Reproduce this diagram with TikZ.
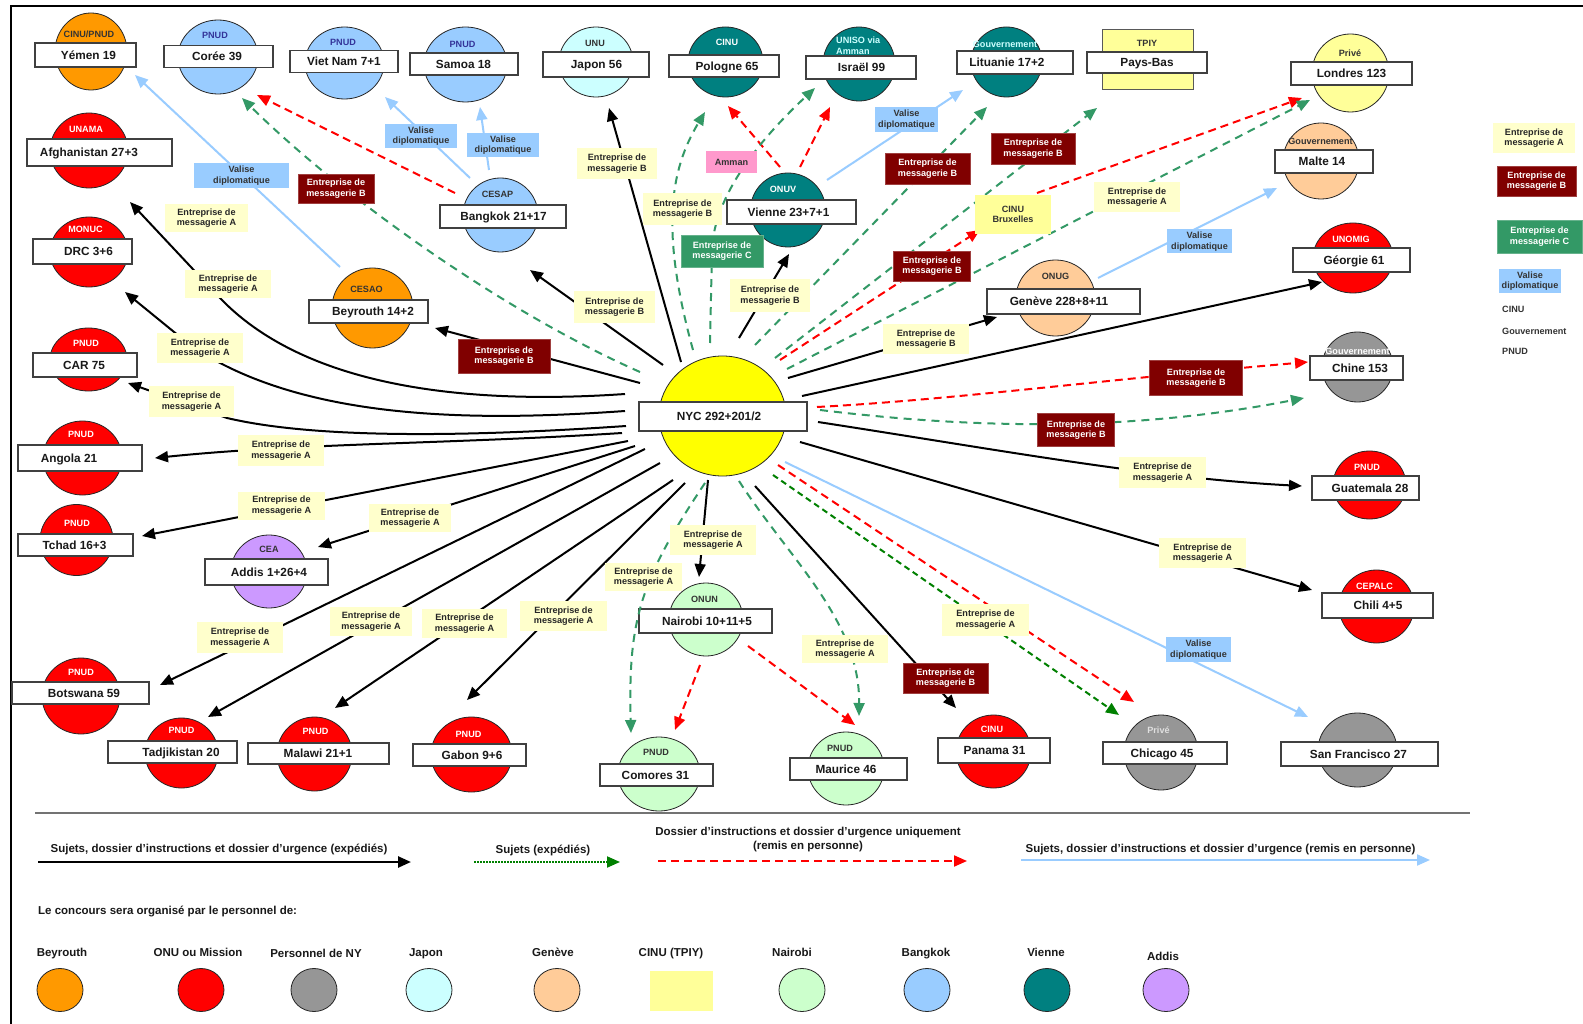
\documentclass[tikz,border=0pt]{standalone}
\usepackage{fontspec}
\setmainfont{Liberation Sans}
\usetikzlibrary{arrows.meta,shapes.geometric}
\definecolor{cRed}{HTML}{FF0000}
\definecolor{cTeal}{HTML}{008080}
\definecolor{cLB}{HTML}{99CCFF}
\definecolor{cOr}{HTML}{FF9900}
\definecolor{cCy}{HTML}{CCFFFF}
\definecolor{cLY}{HTML}{FFFF99}
\definecolor{cPe}{HTML}{FFCC99}
\definecolor{cGr}{HTML}{969696}
\definecolor{cLG}{HTML}{CCFFCC}
\definecolor{cPu}{HTML}{CC99FF}
\definecolor{cYe}{HTML}{FFFF00}
\definecolor{cMA}{HTML}{FFFFCC}
\definecolor{cMB}{HTML}{800000}
\definecolor{cMC}{HTML}{339966}
\definecolor{cDG}{HTML}{008000}
\definecolor{cPk}{HTML}{FF99CC}
\definecolor{cDk}{HTML}{333333}
\definecolor{cBl}{HTML}{333399}
\newcommand\zMain{\fontsize{11.8}{13}\selectfont\bfseries}
\newcommand\zSmall{\fontsize{9.1}{10.6}\selectfont\bfseries}
\newcommand\zLeg{\fontsize{11.5}{14.5}\selectfont\bfseries}
\newcommand\zmA{Entreprise de\\messagerie A}
\newcommand\zmB{Entreprise de\\messagerie B}
\newcommand\zmC{Entreprise de\\messagerie C}
\newcommand\zmV{Valise\\diplomatique}
\tikzset{
 ell/.style={ellipse, draw=black!85, line width=0.8pt, inner sep=0pt},
 lbox/.style={rectangle, draw=black!75, line width=1.2pt, fill=white, inner sep=0pt},
 ttl/.style={inner sep=0pt, font=\zMain, text=black!90, anchor=base},
 ag/.style={inner sep=0pt, font=\zSmall, anchor=base},
 msg/.style={rectangle, inner sep=0pt, align=center, font=\zSmall},
 msgA/.style={msg, fill=cMA, text=black!85},
 msgB/.style={msg, fill=cMB, draw=cMB!75!white, line width=0.8pt, text=white},
 msgC/.style={msg, fill=cMC, draw=cMC!75!white, line width=0.8pt, text=white},
 val/.style={msg, fill=cLB, text=cDk},
 conn/.style={line width=2pt, -{Triangle[length=13pt,width=11pt]}},
 blk/.style={conn, draw=black},
 vb/.style={conn, draw=cLB},
 rd/.style={conn, draw=cRed, dash pattern=on 8pt off 5pt},
 gd/.style={conn, draw=cMC, dash pattern=on 8pt off 6pt},
 dgd/.style={conn, draw=cDG, dash pattern=on 6pt off 4pt},
 legtxt/.style={inner sep=0pt, font=\zLeg, text=black!90, anchor=base},
 keyell/.style={ell, minimum width=46pt, minimum height=43pt},
}
\newcommand\zE[6]{\node[ell, fill=#6, minimum width=#4pt, minimum height=#5pt] (#1) at (#2,#3) {};}
\newcommand\zB[5]{\node[lbox, minimum width=#4pt, minimum height=#5pt] (#1) at (#2,#3) {};}
\newcommand\zT[4]{\node[ttl] (#1) at (#2,{#3+4.2}) {#4};}
\newcommand\zA[5]{\node[ag, text=#5] (#1) at (#2,{#3+3.3}) {#4};}
\newcommand\zL[7]{\node[#2, minimum width=#5pt, minimum height=#6pt] (#1) at (#3,#4) {#7};}
\begin{document}
\begin{tikzpicture}[x=1pt,y=-1pt]
\useasboundingbox (0,0) rectangle (1583,1024);
\fill[white] (0,0) rectangle (1583,1024);
\draw[line width=2pt] (11,1024) -- (11,5.7) -- (1583,5.7);

% ---- places: ellipses
\zE{yemenE}{91}{51.5}{72}{77}{cOr}
\zE{coreeE}{218}{57}{80}{74}{cLB}
\zE{vietE}{344.5}{63}{79}{72}{cLB}
\zE{samoaE}{465.5}{64.5}{83}{75}{cLB}
\zE{japonE}{596}{62}{74}{70}{cCy}
\zE{polE}{725.5}{62}{75}{70}{cTeal}
\zE{israelE}{859}{64}{72}{74}{cTeal}
\zE{lituE}{1006.5}{62}{71}{70}{cTeal}
\node[rectangle, draw=black!65, line width=1pt, fill=cLY, minimum width=91pt, minimum height=60pt, inner sep=0pt] (paysE) at (1147.5,60) {};
\zE{londresE}{1350.5}{73}{77}{78}{cLY}
\zE{malteE}{1321}{161}{76}{76}{cPe}
\zE{georgieE}{1353}{258}{80}{70}{cRed}
\zE{chineE}{1357.5}{367}{71}{70}{cGr}
\zE{afgE}{89}{150.5}{78}{75}{cRed}
\zE{drcE}{89}{252}{78}{70}{cRed}
\zE{carE}{88.5}{359.5}{77}{63}{cRed}
\zE{angolaE}{82.5}{458}{79}{74}{cRed}
\zE{tchadE}{76.5}{540}{73}{71}{cRed}
\zE{addisE}{269}{571.5}{76}{73}{cPu}
\zE{botsE}{81}{696}{78}{76}{cRed}
\zE{tadjE}{181.5}{753}{73}{70}{cRed}
\zE{malawiE}{314.5}{754}{75}{74}{cRed}
\zE{gabonE}{471.5}{754.5}{81}{75}{cRed}
\zE{comoresE}{659}{774}{82}{74}{cLG}
\zE{nairobiE}{706}{619.5}{74}{73}{cLG}
\zE{mauriceE}{846}{768.5}{76}{73}{cLG}
\zE{panamaE}{993.5}{751.5}{75}{73}{cRed}
\zE{chicagoE}{1161}{752.5}{74}{75}{cGr}
\zE{sfE}{1357.5}{750}{79}{74}{cGr}
\zE{chiliE}{1376.5}{606.5}{75}{73}{cRed}
\zE{guatE}{1369.5}{485}{73}{68}{cRed}
\zE{nycE}{722.5}{416}{127}{120}{cYe}
\zE{vienneE}{788}{210}{75}{74}{cTeal}
\zE{bangkokE}{500.5}{215}{75}{74}{cLB}
\zE{beyE}{372.5}{308}{81}{80}{cOr}
\zE{genE}{1055.5}{298}{79}{76}{cPe}

% ---- agency texts
\zA{yemenA}{89}{34}{CINU/PNUD}{cDk}
\zA{coreeA}{215}{35}{PNUD}{cBl}
\zA{vietA}{343}{42}{PNUD}{cBl}
\zA{samoaA}{462.5}{44}{PNUD}{cBl}
\zA{japonA}{595}{43}{UNU}{cDk}
\zA{polA}{727}{42}{CINU}{white}
\node[inner sep=0pt, font=\zSmall, text=cCy, align=left, anchor=west] (israelA) at (836,46) {UNISO via\\Amman};
\zA{lituA}{1005}{44}{Gouvernement}{cCy}
\zA{paysA}{1147}{43}{TPIY}{cDk}
\zA{londresA}{1350}{53}{Privé}{cDk}
\zA{malteA}{1320.5}{141}{Gouvernement}{cDk}
\zA{georgieA}{1351}{239}{UNOMIG}{white}
\zA{chineA}{1357.5}{351}{Gouvernement}{white}
\zA{afgA}{86}{129}{UNAMA}{white}
\zA{drcA}{85.5}{229}{MONUC}{white}
\zA{carA}{86}{343}{PNUD}{white}
\zA{angolaA}{81}{434}{PNUD}{white}
\zA{tchadA}{77}{523}{PNUD}{white}
\zA{addisA}{269}{549}{CEA}{cDk}
\zA{botsA}{81}{672}{PNUD}{white}
\zA{tadjA}{181.5}{730}{PNUD}{white}
\zA{malawiA}{315.5}{731}{PNUD}{white}
\zA{gabonA}{468.5}{734}{PNUD}{white}
\zA{comoresA}{656}{752}{PNUD}{cDk}
\zA{nairobiA}{704.5}{599}{ONUN}{cDk}
\zA{mauriceA}{840}{748}{PNUD}{cDk}
\zA{panamaA}{992}{729}{CINU}{white}
\zA{chicagoA}{1158.5}{730}{Privé}{black!12}
\zA{chiliA}{1374.5}{586}{CEPALC}{white}
\zA{guatA}{1367}{467}{PNUD}{white}
\zA{vienneA}{783}{189}{ONUV}{white}
\zA{bangkokA}{497.5}{194}{CESAP}{cDk}
\zA{beyA}{366.5}{289}{CESAO}{cDk}
\zA{genA}{1055.5}{276}{ONUG}{cDk}

% ---- white name boxes
\zB{yemenB}{85.5}{55}{101}{24}
\zB{coreeB}{218.5}{56.5}{109}{22}
\zB{vietB}{344}{61.5}{108}{22}
\zB{samoaB}{464}{64}{108}{22}
\zB{japonB}{596}{64.5}{106}{25}
\zB{polB}{724}{66}{110}{22}
\zB{israelB}{861}{67.5}{110}{23}
\zB{lituB}{1015}{62.5}{116}{23}
\zB{paysB}{1147}{62.5}{120}{21}
\zB{londresB}{1351.5}{73.5}{121}{23}
\zB{malteB}{1324}{161.5}{98}{23}
\zB{georgieB}{1351.5}{260}{117}{24}
\zB{chineB}{1356.5}{368}{93}{24}
\zB{afgB}{99.5}{152.5}{145}{27}
\zB{drcB}{82.5}{251.5}{99}{25}
\zB{carB}{85}{365}{104}{24}
\zB{angolaB}{80}{458}{124}{26}
\zB{tchadB}{75.5}{545}{115}{22}
\zB{addisB}{266.5}{572}{123}{26}
\zB{botsB}{80.5}{693}{137}{22}
\zB{tadjB}{172.5}{752}{129}{22}
\zB{malawiB}{318.5}{753.5}{141}{21}
\zB{gabonB}{469.5}{755}{113}{22}
\zB{comoresB}{656.5}{775}{113}{22}
\zB{nairobiB}{705.5}{621}{133}{24}
\zB{mauriceB}{848.5}{769}{117}{22}
\zB{panamaB}{994}{750.5}{112}{25}
\zB{chicagoB}{1165}{753}{124}{22}
\zB{sfB}{1359.5}{754}{157}{24}
\zB{chiliB}{1377.5}{605.5}{111}{25}
\zB{guatB}{1365.5}{488}{107}{24}
\zB{nycB}{723}{416.5}{168}{29}
\zB{vienneB}{791.5}{212}{129}{24}
\zB{bangkokB}{503}{216.5}{126}{23}
\zB{beyB}{368.5}{311.5}{119}{23}
\zB{genB}{1063.5}{301.5}{153}{25}

% ---- names
\zT{yemenT}{88.5}{55}{Yémen 19}
\zT{coreeT}{217}{56.5}{Corée 39}
\zT{vietT}{344}{61.5}{Viet Nam 7+1}
\zT{samoaT}{463.5}{64}{Samoa 18}
\zT{japonT}{596.5}{64.5}{Japon 56}
\zT{polT}{727}{66}{Pologne 65}
\zT{israelT}{861.5}{67.5}{Israël 99}
\zT{lituT}{1007}{62.5}{Lituanie 17+2}
\zT{paysT}{1147}{62.5}{Pays-Bas}
\zT{londresT}{1351.5}{73.5}{Londres 123}
\zT{malteT}{1322}{161.5}{Malte 14}
\zT{georgieT}{1354}{260}{Géorgie 61}
\zT{chineT}{1360}{368}{Chine 153}
\zT{afgT}{89}{152.5}{Afghanistan 27+3}
\zT{drcT}{88.5}{251.5}{DRC 3+6}
\zT{carT}{84}{365}{CAR 75}
\zT{angolaT}{69}{458}{Angola 21}
\zT{tchadT}{74.5}{545}{Tchad 16+3}
\zT{addisT}{269}{572}{Addis 1+26+4}
\zT{botsT}{84}{693}{Botswana 59}
\zT{tadjT}{181}{752}{Tadjikistan 20}
\zT{malawiT}{318}{753.5}{Malawi 21+1}
\zT{gabonT}{472}{755}{Gabon 9+6}
\zT{comoresT}{655.5}{775}{Comores 31}
\zT{nairobiT}{707}{621}{Nairobi 10+11+5}
\zT{mauriceT}{846}{769}{Maurice 46}
\zT{panamaT}{994.5}{750.5}{Panama 31}
\zT{chicagoT}{1162}{753}{Chicago 45}
\zT{sfT}{1358.5}{754}{San Francisco 27}
\zT{chiliT}{1378}{605.5}{Chili 4+5}
\zT{guatT}{1370}{488}{Guatemala 28}
\zT{nycT}{719}{416.5}{NYC 292+201/2}
\zT{vienneT}{788.5}{212}{Vienne 23+7+1}
\zT{bangkokT}{503.5}{216.5}{Bangkok 21+17}
\zT{beyT}{373}{311.5}{Beyrouth 14+2}
\zT{genT}{1059}{301.5}{Genève 228+8+11}

% ---- connector end points
\coordinate (sAfg) at (625,394); \coordinate (tAfg) at (130,202);
\coordinate (sDrc) at (625,411); \coordinate (tDrc) at (125,292);
\coordinate (sCar) at (626,426); \coordinate (tCar) at (128,383);
\coordinate (sAng) at (622,433); \coordinate (tAng) at (155,458);
\coordinate (sTch) at (628,441); \coordinate (tTch) at (142,536);
\coordinate (sAdd) at (635,446); \coordinate (tAdd) at (318,547);
\coordinate (sBot) at (645,449); \coordinate (tBot) at (160,685);
\coordinate (sTad) at (660,463); \coordinate (tTad) at (208,717);
\coordinate (sMal) at (673,480); \coordinate (tMal) at (335,708);
\coordinate (sGab) at (685,483); \coordinate (tGab) at (467,700);
\coordinate (sNai) at (708,480); \coordinate (tNai) at (699,577);
\coordinate (sPan) at (755,486); \coordinate (tPan) at (956,708);
\coordinate (sChl) at (800,442); \coordinate (tChl) at (1312,590);
\coordinate (sGua) at (818,422); \coordinate (tGua) at (1302,486);
\coordinate (sGeo) at (802,396); \coordinate (tGeo) at (1322,282);
\coordinate (sGen) at (788,378); \coordinate (tGen) at (997,317);
\coordinate (sVie) at (739,338); \coordinate (tVie) at (789,254);
\coordinate (sJap) at (681,362); \coordinate (tJap) at (609,108);
\coordinate (sBkk) at (663,365); \coordinate (tBkk) at (530,270);
\coordinate (sBey) at (640,383); \coordinate (tBey) at (435,328);
\coordinate (sYemV) at (340,267); \coordinate (tYemV) at (135,75);
\coordinate (sVieV) at (470,178); \coordinate (tVieV) at (385,97);
\coordinate (sSamV) at (489,170); \coordinate (tSamV) at (480,107);
\coordinate (sLitV) at (827,180); \coordinate (tLitV) at (963,90);
\coordinate (sMalV) at (1098,278); \coordinate (tMalV) at (1277,188);
\coordinate (sSfV) at (785,462); \coordinate (tSfV) at (1308,717);
\coordinate (sCorR) at (455,193); \coordinate (tCorR) at (257,95);
\coordinate (sPolR) at (780,167); \coordinate (tPolR) at (728,106);
\coordinate (sIsrR) at (800,167); \coordinate (tIsrR) at (830,107);
\coordinate (sBruR) at (780,360); \coordinate (tBruR) at (980,230);
\coordinate (sLonR) at (1037,193); \coordinate (tLonR) at (1302,98);
\coordinate (sChiR) at (817,407); \coordinate (tChiR) at (1308,362);
\coordinate (sMauR) at (748,646); \coordinate (tMauR) at (855,725);
\coordinate (sComR) at (700,665); \coordinate (tComR) at (675,730);
\coordinate (sChcR) at (778,465); \coordinate (tChcR) at (1134,702);
\coordinate (sCorG) at (640,372); \coordinate (tCorG) at (242,98);
\coordinate (sPolG) at (693,350); \coordinate (tPolG) at (705,112);
\coordinate (sIsrG) at (710,343); \coordinate (tIsrG) at (815,88);
\coordinate (sLitG) at (755,345); \coordinate (tLitG) at (987,107);
\coordinate (sPayG) at (775,358); \coordinate (tPayG) at (1097,108);
\coordinate (sLonG) at (787,369); \coordinate (tLonG) at (1310,100);
\coordinate (sChiG) at (820,410); \coordinate (tChiG) at (1304,398);
\coordinate (sMauG) at (739,481); \coordinate (tMauG) at (859,716);
\coordinate (sComG) at (705,483); \coordinate (tComG) at (631,733);
\coordinate (sChcG) at (773,475); \coordinate (tChcG) at (1119,715);

% ---- black connectors
\draw[blk] (sAfg) .. controls (480,404) and (310,392) .. (220,298) -- (tAfg);
\draw[blk] (sDrc) .. controls (470,422) and (300,420) .. (190,345) -- (tDrc);
\draw[blk] (sCar) .. controls (480,436) and (320,440) .. (227,418) -- (tCar);
\draw[blk] (sAng) .. controls (450,444) and (300,443) .. (tAng);
\draw[blk] (sTch) -- (tTch);
\draw[blk] (sAdd) -- (tAdd);
\draw[blk] (sBot) -- (tBot);
\draw[blk] (sTad) -- (tTad);
\draw[blk] (sMal) -- (tMal);
\draw[blk] (sGab) -- (tGab);
\draw[blk] (sNai) -- (tNai);
\draw[blk] (sPan) -- (tPan);
\draw[blk] (sChl) -- (tChl);
\draw[blk] (sGua) .. controls (1000,450) and (1150,478) .. (tGua);
\draw[blk] (sGeo) -- (tGeo);
\draw[blk] (sGen) -- (tGen);
\draw[blk] (sVie) -- (tVie);
\draw[blk] (sJap) -- (tJap);
\draw[blk] (sBkk) -- (tBkk);
\draw[blk] (sBey) -- (tBey);
% ---- light blue
\draw[vb] (sYemV) -- (tYemV);
\draw[vb] (sVieV) -- (tVieV);
\draw[vb] (sSamV) -- (tSamV);
\draw[vb] (sLitV) -- (tLitV);
\draw[vb] (sMalV) -- (tMalV);
\draw[vb] (sSfV) -- (tSfV);
% ---- red dashed
\draw[rd] (sCorR) -- (tCorR);
\draw[rd] (sPolR) -- (tPolR);
\draw[rd] (sIsrR) -- (tIsrR);
\draw[rd] (sBruR) -- (tBruR);
\draw[rd] (sLonR) -- (tLonR);
\draw[rd] (sChiR) .. controls (950,400) and (1100,380) .. (tChiR);
\draw[rd] (sMauR) -- (tMauR);
\draw[rd] (sComR) -- (tComR);
\draw[rd] (sChcR) -- (tChcR);
% ---- green dashed
\draw[gd] (sCorG) .. controls (500,310) and (340,195) .. (tCorG);
\draw[gd] (sPolG) .. controls (660,230) and (670,170) .. (tPolG);
\draw[gd] (sIsrG) -- (712,250) .. controls (714,190) and (770,130) .. (tIsrG);
\draw[gd] (sLitG) -- (tLitG);
\draw[gd] (sPayG) -- (tPayG);
\draw[gd] (sLonG) -- (tLonG);
\draw[gd] (sChiG) .. controls (1000,432) and (1150,428) .. (tChiG);
\draw[gd] (sMauG) .. controls (790,560) and (860,620) .. (tMauG);
\draw[gd] (sComG) .. controls (640,580) and (628,620) .. (tComG);
\draw[dgd] (sChcG) -- (tChcG);

% ---- connector labels
\zL{la1}{msgA}{206.5}{218}{83}{28}{\zmA}
\zL{la2}{msgA}{228}{284}{86}{28}{\zmA}
\zL{la3}{msgA}{200}{348}{86}{30}{\zmA}
\zL{la4}{msgA}{191.5}{401.5}{85}{31}{\zmA}
\zL{la5}{msgA}{281}{450.5}{86}{31}{\zmA}
\zL{la6}{msgA}{281.5}{505.5}{87}{28}{\zmA}
\zL{la7}{msgA}{410}{518}{82}{28}{\zmA}
\zL{la8}{msgA}{240}{637.5}{86}{31}{\zmA}
\zL{la9}{msgA}{371}{621.5}{82}{29}{\zmA}
\zL{la10}{msgA}{464.5}{623.5}{85}{29}{\zmA}
\zL{la11}{msgA}{563.5}{616}{87}{30}{\zmA}
\zL{la12}{msgA}{643.5}{577}{77}{28}{\zmA}
\zL{la13}{msgA}{713}{540}{86}{30}{\zmA}
\zL{la14}{msgA}{845}{649}{86}{28}{\zmA}
\zL{la15}{msgA}{985.5}{619.5}{87}{32}{\zmA}
\zL{lb16}{msgB}{945.5}{678}{85}{30}{\zmB}
\zL{la17}{msgA}{1202.5}{553}{87}{30}{\zmA}
\zL{v18}{val}{1198.5}{649.5}{65}{25}{\zmV}
\zL{la19}{msgA}{1162.5}{472.5}{87}{31}{\zmA}
\zL{lb20}{msgB}{1076}{430}{77}{33}{\zmB}
\zL{lb21}{msgB}{1196}{378}{93}{35}{\zmB}
\zL{ly22}{msgA}{926}{339}{86}{30}{\zmB}
\zL{v23}{val}{1199.5}{241.5}{65}{24}{\zmV}
\zL{la24}{msgA}{1137}{197}{86}{30}{\zmA}
\zL{lb25}{msgB}{932}{266}{77}{30}{\zmB}
\zL{lb26}{msgB}{1033}{148.5}{84}{31}{\zmB}
\zL{lb27}{msgB}{927.5}{168.5}{85}{31}{\zmB}
\zL{v28}{val}{906.5}{119.5}{63}{25}{\zmV}
\zL{ly29}{msgA}{770}{295.5}{80}{33}{\zmB}
\zL{lc30}{msgC}{722}{251}{82}{32}{\zmC}
\zL{amman}{msg, fill=cPk, text=cDk}{731.5}{162}{51}{22}{Amman}
\zL{ly31}{msgA}{682.5}{209}{79}{32}{\zmB}
\zL{ly32}{msgA}{617}{163.5}{80}{31}{\zmB}
\zL{v33}{val}{503}{145}{72}{24}{\zmV}
\zL{v34}{val}{421}{136}{72}{24}{\zmV}
\zL{lb35}{msgB}{336}{188.5}{76}{29}{\zmB}
\zL{v36}{val}{241.5}{175.5}{95}{25}{\zmV}
\zL{ly37}{msgA}{614.5}{307}{81}{32}{\zmB}
\zL{lb38}{msgB}{504}{356}{92}{34}{\zmB}
\zL{brux}{msg, fill=cLY, text=cDk}{1013}{214.5}{76}{39}{CINU\\Bruxelles}

% ---- right legend
\zL{ra}{msgA}{1534}{138}{82}{30}{\zmA}
\zL{rb}{msgB}{1536.5}{181}{79}{30}{\zmB}
\zL{rc}{msgC}{1539.5}{236.5}{85}{33}{\zmC}
\zL{rv}{val}{1530}{281}{62}{24}{\zmV}
\node[ag, anchor=base west, text=cDk] (rk1) at (1502,312.3) {CINU};
\node[ag, anchor=base west, text=cDk] (rk2) at (1502,334.3) {Gouvernement};
\node[ag, anchor=base west, text=cDk] (rk3) at (1502,354.3) {PNUD};

% ---- bottom legend
\coordinate (sep1) at (35,813); \coordinate (sep2) at (1470,813);
\draw[line width=1.5pt, black!55] (sep1) -- (sep2);
\node[legtxt] (lg1) at (219,852) {Sujets, dossier d'instructions et dossier d'urgence (expédiés)};
\node[legtxt] (lg2) at (543,853) {Sujets (expédiés)};
\node[legtxt, align=center, anchor=center] (lg3) at (808,839.5) {Dossier d'instructions et dossier d'urgence uniquement\\(remis en personne)};
\node[legtxt] (lg4) at (1220.5,852) {Sujets, dossier d'instructions et dossier d'urgence (remis en personne)};
\coordinate (k1s) at (38,862); \coordinate (k1t) at (411,862);
\coordinate (k2s) at (474,862); \coordinate (k2t) at (620,862);
\coordinate (k3s) at (658,861); \coordinate (k3t) at (967,861);
\coordinate (k4s) at (1021,860); \coordinate (k4t) at (1430,860);
\draw[blk, line width=2.5pt] (k1s) -- (k1t);
\draw[conn, draw=cDG, dash pattern=on 1.5pt off 1.5pt] (k2s) -- (k2t);
\draw[rd] (k3s) -- (k3t);
\draw[vb] (k4s) -- (k4t);
\node[legtxt, anchor=base west] (lg5) at (38,914) {Le concours sera organisé par le personnel de:};
\node[legtxt] (kt1) at (62,956) {Beyrouth};
\node[legtxt] (kt2) at (198,956) {ONU ou Mission};
\node[legtxt] (kt3) at (316,957) {Personnel de NY};
\node[legtxt] (kt4) at (426,956) {Japon};
\node[legtxt] (kt5) at (553,956) {Genève};
\node[legtxt] (kt6) at (671,956) {CINU (TPIY)};
\node[legtxt] (kt7) at (792,956) {Nairobi};
\node[legtxt] (kt8) at (926,956) {Bangkok};
\node[legtxt] (kt9) at (1046,956) {Vienne};
\node[legtxt] (kt10) at (1163,960) {Addis};
\node[keyell, fill=cOr] (k1) at (60,990) {};
\node[keyell, fill=cRed] (k2) at (201,990) {};
\node[keyell, fill=cGr] (k3) at (314,990) {};
\node[keyell, fill=cCy] (k4) at (429,990) {};
\node[keyell, fill=cPe] (k5) at (557,990) {};
\node[rectangle, fill=cLY, minimum width=63pt, minimum height=40pt, inner sep=0pt] (k6) at (681.5,991) {};
\node[keyell, fill=cLG] (k7) at (802,990) {};
\node[keyell, fill=cLB] (k8) at (927,990) {};
\node[keyell, fill=cTeal] (k9) at (1047,990) {};
\node[keyell, fill=cPu] (k10) at (1166,990) {};
\end{tikzpicture}
\end{document}
